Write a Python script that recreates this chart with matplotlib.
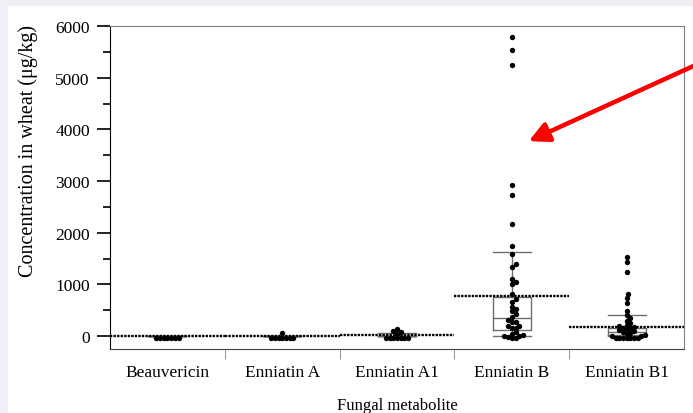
import numpy as np
import matplotlib.pyplot as plt
from matplotlib.patches import Rectangle

plt.rcParams['font.family'] = ['Liberation Serif', 'DejaVu Serif']

metabolites = ['Beauvericin', 'Enniatin A', 'Enniatin A1', 'Enniatin B', 'Enniatin B1']

beauvericin = [-40, -40, -40, -40, -40, -40, -40]
enniatin_a = [-40, -40, -40, -40, -40, -40, -40, 60]
enniatin_a1 = [-40, -40, -40, -40, -40, -40, -40, 40, 80, 100, 135]
enniatin_b = [5780, 5530, 5240, 2920, 2730, 2170, 1750, 1590, 1390, 1340, 1100,
              1050, 1000, 810, 720, 660, 560, 520, 480, 430, 370, 310, 280, 270,
              190, 190, 155, 150, 80, 40, 20, 0, 0, -20, -40, -40]
enniatin_b1 = [1530, 1440, 1240, 810, 740, 640, 480, 400, 350, 300, 250, 220,
               200, 180, 160, 150, 130, 110, 100, 80, 60, 40, 20, 0, 0,
               -40, -40, -40, -40, -40, -40, -40]
values = [beauvericin, enniatin_a, enniatin_a1, enniatin_b, enniatin_b1]

# box summary (q1, median, q3, whisker low, whisker high) and mean line
q1 = [0, 0, 0, 116, 20]
median = [0, 0, 0, 348, 70]
q3 = [0, 0, 10, 754, 155]
whislo = [0, 0, 0, 0, 0]
whishi = [0, 0, 55, 1625, 406]
means = [0, 0, 15, 770, 175]

fig = plt.figure(figsize=(6.93, 4.14), dpi=100)
fig.patch.set_facecolor('#eef0f6')
fig.patches.append(Rectangle((8 / 693, 0), 1, 1 - 7 / 414, transform=fig.transFigure,
                             facecolor='white', edgecolor='none', zorder=-10))
ax = fig.add_axes([110 / 693, 64 / 414, 574 / 693, 323 / 414])
ax.set_facecolor('none')
ax.set_xlim(-0.5, 4.5)
ax.set_ylim(-250, 6000)

stats = []
for i in range(len(metabolites)):
    stats.append(dict(q1=q1[i], med=median[i], q3=q3[i],
                      whislo=whislo[i], whishi=whishi[i], fliers=[]))
gray = '#6e6e6e'
ax.bxp(stats, positions=range(5), widths=0.33, capwidths=0.33, showfliers=False,
       boxprops=dict(color=gray, lw=1), medianprops=dict(color=gray, lw=1),
       whiskerprops=dict(color=gray, lw=1), capprops=dict(color=gray, lw=1),
       manage_ticks=False)

for i, m in enumerate(means):
    ax.hlines(m, i - 0.5, i + 0.5, colors='black', linestyles=(0, (1, 0.5)), lw=1.7, zorder=4)


def swarm(x0, vals, d=3.7):
    # simple beeswarm in pixel space, points may touch a little
    tr = ax.transData
    ys = tr.transform(np.column_stack([np.full(len(vals), x0), vals]))[:, 1]
    offs = np.zeros(len(vals))
    placed = []
    for i in np.argsort(ys):
        for k in range(60):
            dx = (k + 1) // 2 * (1 if k % 2 else -1) * d / 2
            if all((dx - px) ** 2 + (ys[i] - py) ** 2 >= d * d for px, py in placed):
                break
        placed.append((dx, ys[i]))
        offs[i] = dx
    ppu = tr.transform((1, 0))[0] - tr.transform((0, 0))[0]
    return x0 + offs / ppu


for i, v in enumerate(values):
    ax.scatter(swarm(i, v), v, s=15, color='black', marker='o', lw=0, zorder=5)

# axes styling
ax.spines['left'].set_color('black')
ax.spines['bottom'].set_color('#444444')
ax.spines['top'].set_color('#808080')
ax.spines['right'].set_color('#808080')
ax.set_yticks(range(0, 6001, 1000))
ax.set_yticks(range(500, 6000, 1000), minor=True)
ax.tick_params(axis='y', which='major', length=9.5, width=1.2, labelsize=12.5, pad=5)
ax.tick_params(axis='y', which='minor', length=5, width=1.2)
ax.set_xticks(range(5))
ax.set_xticklabels(metabolites)
ax.set_xticks([0.5, 1.5, 2.5, 3.5], minor=True)
ax.tick_params(axis='x', which='major', length=0, labelsize=12.5, pad=11)
ax.tick_params(axis='x', which='minor', length=7, color='#808080')

ax.set_ylabel('Concentration in wheat (μg/kg)', fontsize=14.5)
ax.yaxis.set_label_coords(-0.125, 0.616)
ax.set_xlabel('Fungal metabolite', fontsize=12, labelpad=12)

# red arrow pointing at the Enniatin B outliers
fig.add_artist(plt.annotate('', xy=(529, 414 - 142), xycoords='figure pixels',
                            xytext=(700, 414 - 64), textcoords='figure pixels',
                            arrowprops=dict(arrowstyle='-|>', color='red', lw=3,
                                            mutation_scale=30, shrinkA=0, shrinkB=0)))

fig.savefig('out.png', dpi=100)
